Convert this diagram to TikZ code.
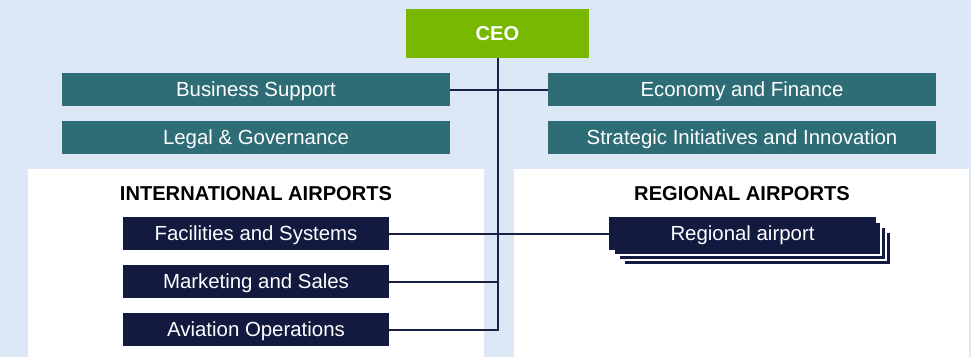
\documentclass[tikz,border=0pt]{standalone}
\usepackage{fontspec}
\setmainfont{Liberation Sans}
\definecolor{bgblue}{HTML}{DCE8F6}
\definecolor{ceogreen}{HTML}{78B800}
\definecolor{teal}{HTML}{2E6C76}
\definecolor{navy}{HTML}{121A3F}
\definecolor{linenavy}{HTML}{1A2148}
\begin{document}
\begin{tikzpicture}[x=1pt,y=-1pt,
  box/.style={draw=none,inner sep=0pt,text=white,font=\fontsize{20.4}{23}\selectfont,text height=14.8pt,text depth=1.5pt},
  tealbox/.style={box,fill=teal,minimum width=388pt,minimum height=33pt},
  navybox/.style={box,fill=navy,minimum width=266pt,minimum height=33pt},
  heading/.style={font=\fontsize{20.1}{23}\selectfont\bfseries,text=black},
  conn/.style={draw=linenavy,line width=2pt},
  stackbox/.style={fill=navy,draw=white,line width=1.6pt}]
\useasboundingbox (0,0) rectangle (971,357);
\fill[bgblue] (0,0) rectangle (971,357);
% panels
\fill[white] (28,169) rectangle (484,357);
\fill[white] (514,169) rectangle (969,357);
% nodes
\node[box,fill=ceogreen,minimum width=183pt,minimum height=49pt,font=\fontsize{20.1}{23}\selectfont\bfseries] (ceo) at (497.5,33.5) {CEO};
\node[tealbox] (bs) at (256,89.5) {Business Support};
\node[tealbox] (ef) at (742,89.5) {Economy and Finance};
\node[tealbox] (lg) at (256,137.5) {Legal \& Governance};
\node[tealbox] (si) at (742,137.5) {Strategic Initiatives and Innovation};
\node[heading] (ia) at (256,194) {INTERNATIONAL AIRPORTS};
\node[heading] (ra) at (742,194) {REGIONAL AIRPORTS};
\node[navybox] (fs) at (256,233.5) {Facilities and Systems};
\node[navybox] (ms) at (256,281.5) {Marketing and Sales};
\node[navybox] (ao) at (256,329.5) {Aviation Operations};
% regional stack
\filldraw[stackbox] (624,232) rectangle (891,265);
\filldraw[stackbox] (619,227) rectangle (886,260);
\filldraw[stackbox] (614,222) rectangle (881,255);
\node[box,fill=navy,minimum width=267pt,minimum height=33pt] (rg) at (742.5,233.5) {Regional airport};
% connectors
\coordinate (top) at (ceo.south);
\coordinate (bot) at (ceo.south |- ao.east);
\draw[conn] (top) -- (bot);
\draw[conn] (bs.east) -- (ef.west);
\draw[conn] (fs.east) -- (rg.west);
\draw[conn] (ms.east) -- (ms.east -| top);
\draw[conn] (ao.east) -- ([xshift=1pt]bot);
\end{tikzpicture}
\end{document}
